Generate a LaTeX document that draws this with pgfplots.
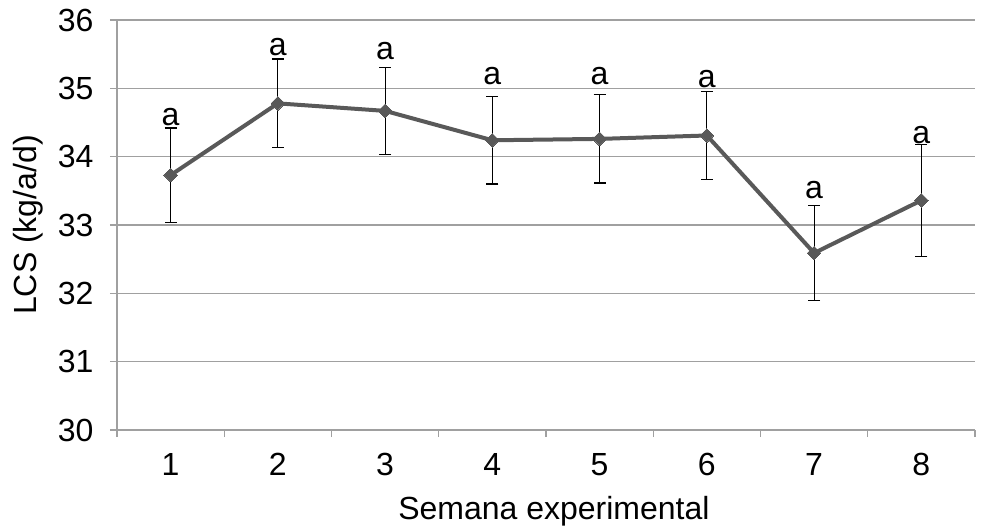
\documentclass[border=0pt]{standalone}
\usepackage{fontspec}
\setmainfont{Liberation Sans}
\usepackage{pgfplots}
\pgfplotsset{compat=1.18}
\definecolor{linegray}{HTML}{595959}
\definecolor{gridgray}{HTML}{A0A0A0}
\newcommand{\bigfont}{\fontsize{32bp}{38bp}\selectfont}
\begin{document}
\begin{tikzpicture}
\begin{axis}[
  scale only axis, width=858bp, height=410bp,
  xmin=0.5, xmax=8.5, ymin=30, ymax=36,
  xtick={1,...,8},
  minor xtick={0.5,1.5,...,8.5},
  ytick={30,...,36},
  axis x line*=bottom, axis y line*=left,
  axis line style={gridgray, line width=1.2bp},
  ymajorgrids, grid style={gridgray, line width=1.2bp},
  tick align=outside,
  major tick length=7bp, minor tick length=7bp,
  every tick/.style={gridgray, line width=1.2bp},
  major x tick style={draw=none},
  /pgf/number format/assume math mode=true,
  tick label style={font=\bigfont, text=black},
  xticklabel style={yshift=-13bp},
  yticklabel style={xshift=-13bp},
  label style={font=\bigfont, text=black},
  xlabel={Semana experimental},
  ylabel={LCS (kg/a/d)},
  xlabel style={at={(axis description cs:0.5093,-0.2195)}, anchor=base},
  ylabel style={at={(axis description cs:-0.1037,0.5)}, anchor=center},
  clip=false,
]
\addplot[linegray, line width=4bp, mark=square*, mark size=4.8bp,
  mark options={fill=linegray, draw=linegray, line width=0pt, rotate=45},
  error bars/.cd, y dir=both, y explicit,
  error bar style={black, line width=1.1bp},
  error mark options={black, line width=1.1bp, mark size=6bp, rotate=90}]
coordinates {
  (1,33.73) +- (0,0.69)
  (2,34.78) +- (0,0.65)
  (3,34.67) +- (0,0.64)
  (4,34.24) +- (0,0.64)
  (5,34.26) +- (0,0.645)
  (6,34.31) +- (0,0.645)
  (7,32.59) +- (0,0.69)
  (8,33.36) +- (0,0.82)
};
\addplot[draw=none, mark=none, nodes near coords={a},
  every node near coord/.append style={anchor=center, inner sep=0pt, font=\bigfont, text=black}]
coordinates {
  (1,34.58) (2,35.60) (3,35.54) (4,35.18) (5,35.18) (6,35.14) (7,33.51) (8,34.32)
};
\coordinate (sw) at (rel axis cs:0,0);
\end{axis}
\pgfresetboundingbox
\path[use as bounding box] (sw) ++(-117bp,-99bp) rectangle ++(985bp,529bp);
\end{tikzpicture}
\end{document}
